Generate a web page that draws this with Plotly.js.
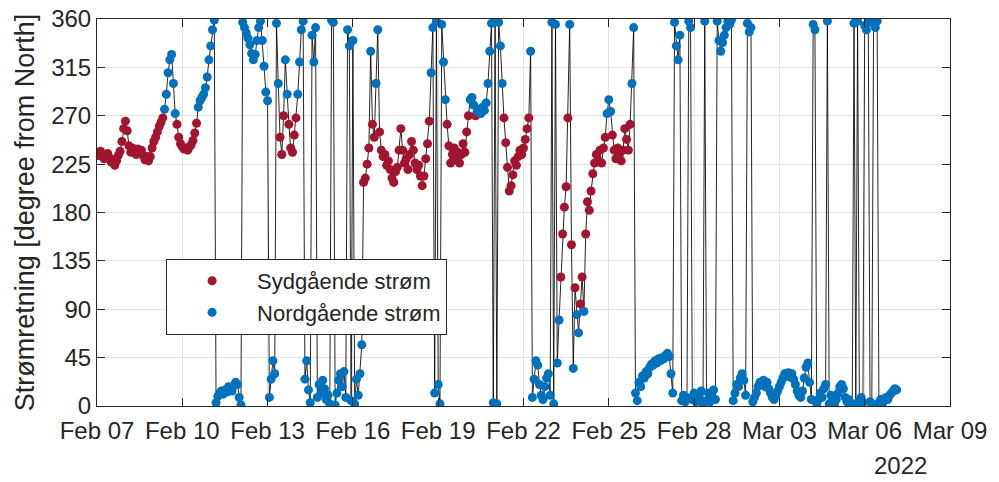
<!DOCTYPE html>
<html>
<head>
<meta charset="utf-8">
<script src="https://cdn.plot.ly/plotly-3.0.1.min.js"></script>
<style>
  html, body { margin: 0; padding: 0; background: #ffffff; }
  #chart { width: 999px; height: 482px; }
</style>
</head>
<body>
<div id="chart"></div>
<script>
// ---- data ----
// samples every 1.5 hours, starting 2022-02-07 00:00
const startTime = '2022-02-07T00:00:00';
const stepHours = 1.5;

// direction in degrees from North, one row per day (16 samples per day)
const direction = [
  236, 233, 237, 234, 230, 233, 235, 231, 227, 229, 224, 228, 233, 237, 246, 258,   // Feb 07
  265, 256, 242, 236, 240, 237, 234, 239, 236, 238, 233, 229, 232, 228, 232, 240,   // Feb 08
  246, 250, 255, 260, 264, 268, 276, 290, 310, 322, 327, 300, 272, 262, 250, 244,   // Feb 09
  241, 239, 240, 238, 241, 243, 247, 254, 263, 278, 284, 287, 290, 296, 306, 322,   // Feb 10
  335, 350, 359, 3, 9, 12, 14, 11, 15, 13, 18, 16, 14, 19, 22, 20,                  // Feb 11
  8, 1, 357, 352, 347, 342, 336, 328, 322, 327, 340, 352, 358, 340, 316, 292,       // Feb 12
  284, 8, 25, 42, 30, 356, 300, 250, 234, 270, 322, 290, 262, 240, 236, 252,        // Feb 13
  268, 290, 320, 350, 358, 25, 42, 15, 3, 345, 320, 352, 8, 20, 12, 24,             // Feb 14
  16, 6, 10, 2, 359, 357, 1, 12, 24, 30, 18, 32, 8, 350, 335, 5,                    // Feb 15
  340, 2, 25, 10, 30, 57, 208, 212, 225, 240, 330, 262, 250, 300, 350, 255,         // Feb 16
  238, 232, 234, 224, 228, 220, 212, 208, 218, 222, 238, 258, 238, 226, 230, 220,   // Feb 17
  234, 246, 238, 226, 220, 224, 214, 205, 214, 230, 244, 265, 310, 352, 12, 358,    // Feb 18
  20, 2, 355, 320, 285, 262, 242, 226, 234, 240, 230, 236, 226, 234, 244, 236,      // Feb 19
  255, 270, 285, 287, 280, 270, 274, 276, 272, 278, 275, 282, 300, 330, 356, 3,     // Feb 20
  358, 2, 357, 335, 300, 268, 245, 222, 200, 205, 215, 228, 224, 232, 238, 234,     // Feb 21
  240, 248, 258, 268, 330, 8, 25, 42, 38, 20, 10, 6, 18, 26, 30, 10,                // Feb 22
  357, 2, 355, 40, 80, 120, 160, 185, 204, 268, 355, 150, 35, 110, 85, 68,          // Feb 23
  95, 120, 88, 160, 190, 182, 200, 216, 226, 234, 228, 238, 226, 240, 250, 272,     // Feb 24
  285, 274, 252, 238, 230, 240, 234, 228, 238, 258, 248, 238, 262, 300, 352, 12,    // Feb 25
  5, 22, 18, 28, 26, 32, 30, 36, 39, 38, 42, 40, 44, 42, 45, 44,                    // Feb 26
  47, 49, 46, 30, 12, 357, 335, 322, 345, 5, 10, 4, 8, 358, 352, 6,                 // Feb 27
  12, 4, 10, 6, 14, 2, 358, 5, 12, 4, 8, 15, 6, 358, 340, 330,                      // Feb 28
  338, 345, 352, 358, 355, 359, 5, 12, 20, 18, 26, 30, 24, 10, 356, 348,            // Mar 01
  352, 4, 8, 12, 18, 22, 20, 24, 18, 22, 16, 12, 8, 6, 10, 14,                      // Mar 02
  18, 22, 26, 30, 28, 31, 27, 30, 25, 20, 14, 10, 8, 14, 26, 36,                    // Mar 03
  40, 22, 6, 355, 350, 2, 6, 12, 8, 16, 20, 358, 2, 10, 4, 2,                       // Mar 04
  6, 12, 18, 20, 16, 8, 4, 6, 3, 1, 356, 2, 358, 5, 8, 3,                           // Mar 05
  354, 350, 357, 4, 2, 356, 352, 358, 3, 6, 2, 5, 8, 6, 10, 12,                     // Mar 06
  14, 16, 15                                                                         // Mar 07
];

const seriesNames = ['Sydgående strøm', 'Nordgående strøm'];
const southRange = [90, 270];

const xTickDates = ['2022-02-07', '2022-02-10', '2022-02-13', '2022-02-16', '2022-02-19',
                    '2022-02-22', '2022-02-25', '2022-02-28', '2022-03-03', '2022-03-06', '2022-03-09'];
const xTickLabels = ['Feb 07', 'Feb 10', 'Feb 13', 'Feb 16', 'Feb 19',
                     'Feb 22', 'Feb 25', 'Feb 28', 'Mar 03', 'Mar 06', 'Mar 09'];
const yTicks = [0, 45, 90, 135, 180, 225, 270, 315, 360];
const yearLabel = '2022';

// ---- build traces ----
function fmt(d) {
  const p = n => String(n).padStart(2, '0');
  return d.getUTCFullYear() + '-' + p(d.getUTCMonth() + 1) + '-' + p(d.getUTCDate()) +
         ' ' + p(d.getUTCHours()) + ':' + p(d.getUTCMinutes());
}
const t0 = new Date(startTime + 'Z').getTime();
const times = direction.map((_, i) => fmt(new Date(t0 + i * stepHours * 3600 * 1000)));

const sx = [], sy = [], nx = [], ny = [];
direction.forEach((v, i) => {
  if (v >= southRange[0] && v <= southRange[1]) { sx.push(times[i]); sy.push(v); }
  else { nx.push(times[i]); ny.push(v); }
});

const RED = '#A2142F', BLUE = '#0072BD', AX = '#262626';
const FONT = '"Liberation Sans", Arial, Helvetica, sans-serif';

const traces = [
  { x: times, y: direction, type: 'scatter', mode: 'lines',
    line: { color: 'rgba(0,0,0,0.85)', width: 1 }, showlegend: false, hoverinfo: 'skip' },
  { x: sx, y: sy, type: 'scatter', mode: 'markers', name: seriesNames[0],
    marker: { color: RED, size: 9 } },
  { x: nx, y: ny, type: 'scatter', mode: 'markers', name: seriesNames[1],
    marker: { color: BLUE, size: 9 } }
];

const layout = {
  width: 999, height: 482,
  margin: { l: 97, r: 49, t: 19, b: 76 },
  paper_bgcolor: '#ffffff', plot_bgcolor: '#ffffff',
  font: { family: FONT, size: 24, color: AX },
  xaxis: {
    type: 'date', range: ['2022-02-07', '2022-03-09'],
    tickvals: xTickDates, ticktext: xTickLabels,
    ticks: 'inside', ticklen: 8, tickcolor: AX, tickwidth: 1,
    showline: true, linecolor: AX, linewidth: 1, mirror: 'ticks',
    showgrid: true, gridcolor: '#e3e3e3', gridwidth: 1,
    zeroline: false, tickfont: { size: 24, color: AX }, ticklabelstandoff: 3
  },
  yaxis: {
    range: [0, 360], tickvals: yTicks,
    ticks: 'inside', ticklen: 8, tickcolor: AX, tickwidth: 1,
    showline: true, linecolor: AX, linewidth: 1, mirror: 'ticks',
    showgrid: true, gridcolor: '#e3e3e3', gridwidth: 1,
    zeroline: false, tickfont: { size: 24, color: AX },
    title: { text: 'Strømretning [degree from North]', font: { size: 27, color: AX }, standoff: 8 }
  },
  legend: {
    x: 0.081, y: 0.38, xanchor: 'left', yanchor: 'top',
    bgcolor: '#ffffff', bordercolor: AX, borderwidth: 1,
    font: { size: 22, color: AX }, itemwidth: 80
  },
  annotations: [
    { text: yearLabel, xref: 'paper', yref: 'paper', x: 0.9414, y: -0.155,
      xanchor: 'center', yanchor: 'middle', showarrow: false, font: { size: 24, color: AX } }
  ],
  showlegend: true
};

Plotly.newPlot('chart', traces, layout, { displayModeBar: false, staticPlot: true });
</script>
</body>
</html>
